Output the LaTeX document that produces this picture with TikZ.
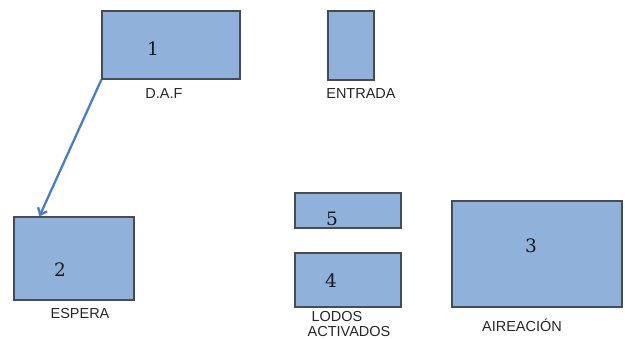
\documentclass[tikz,border=0pt]{standalone}
\usepackage{fontspec}
\setmainfont{DejaVu Serif}
\newfontfamily\labelfont{Liberation Sans}
\usetikzlibrary{arrows.meta}
\definecolor{boxfill}{HTML}{8FB1DA}
\definecolor{boxline}{HTML}{454C55}
\definecolor{arrowblue}{HTML}{4A7FC4}
\tikzset{
  tank/.style={draw=boxline, fill=boxfill, line width=1.2pt, inner sep=0pt},
  num/.style={font=\fontsize{18.5}{22}\selectfont, text=black!90, inner sep=0pt},
  lbl/.style={font=\labelfont\fontsize{14.5}{16}\selectfont, text=black!85, inner sep=0pt, align=center},
}
\begin{document}
\begin{tikzpicture}[x=1pt,y=-1pt]
\useasboundingbox (0,0) rectangle (625,339);
% tanks
\node[tank, minimum width=138pt, minimum height=68pt] (t1) at (171,45) {};
\node[tank, minimum width=46pt, minimum height=69pt] (te) at (351,45.5) {};
\node[tank, minimum width=120pt, minimum height=83pt] (t2) at (74,258.5) {};
\node[tank, minimum width=106pt, minimum height=35pt] (t5) at (348,210.5) {};
\node[tank, minimum width=106pt, minimum height=54pt] (t4) at (348,280) {};
\node[tank, minimum width=170pt, minimum height=106pt] (t3) at (537,254) {};
% numbers
\node[num] (n1) at (153,49) {1};
\node[num] (n2) at (60,270) {2};
\node[num] (n3) at (531,246) {3};
\node[num] (n4) at (331,281) {4};
\node[num] (n5) at (332,219) {5};
% labels
\node[lbl] (l1) at (164,94) {D.A.F};
\node[lbl] (le) at (361,94) {ENTRADA};
\node[lbl] (l2) at (80,314) {ESPERA};
\node[lbl] (l4a) at (337,317) {LODOS};
\node[lbl] (l4b) at (349,332) {ACTIVADOS};
\node[lbl] (l3) at (522,325) {AIREACIÓN};
% arrow
\draw[arrowblue, line width=2.3pt, -{Straight Barb[length=6pt,width=10pt]}] (t1.south west) -- ([xshift=26pt]t2.north west);
\end{tikzpicture}
\end{document}
